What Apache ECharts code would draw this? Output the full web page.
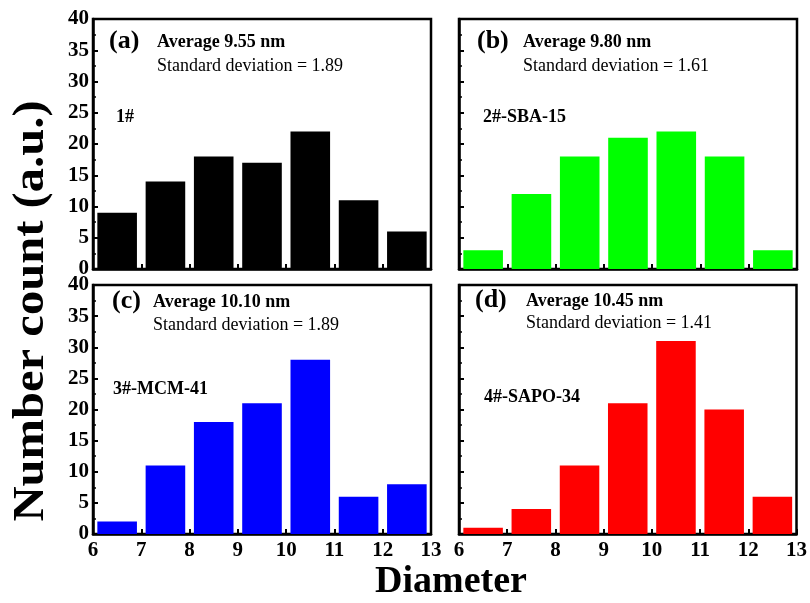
<!DOCTYPE html>
<html><head><meta charset="utf-8">
<script src="https://cdn.jsdelivr.net/npm/echarts@6/dist/echarts.min.js"></script>
<style>html,body{margin:0;padding:0;background:#fff}#c{width:810px;height:603px}</style>
</head><body><div id="c"></div>
<script>
var binStarts = [6, 7, 8, 9, 10, 11, 12];
var countsA = [9, 14, 18, 17, 22, 11, 6];
var countsB = [3, 12, 18, 21, 22, 18, 3];
var countsC = [2, 11, 18, 21, 28, 6, 8];
var countsD = [1, 4, 11, 21, 31, 20, 6];
var panelLabels = ['(a)', '(b)', '(c)', '(d)'];
var averages = ['Average 9.55 nm', 'Average 9.80 nm', 'Average 10.10 nm', 'Average 10.45 nm'];
var stdDevs = ['Standard deviation = 1.89', 'Standard deviation = 1.61', 'Standard deviation = 1.89', 'Standard deviation = 1.41'];
var sampleNames = ['1#', '2#-SBA-15', '3#-MCM-41', '4#-SAPO-34'];
var colors = ['#000000', '#00ff00', '#0000ff', '#ff0000'];
var allCounts = [countsA, countsB, countsC, countsD];

var FONT = '"Liberation Serif", "Times New Roman", serif';
var grids = [
  {left: 93, top: 19, width: 338, height: 250},
  {left: 459, top: 19, width: 338, height: 250},
  {left: 93, top: 285, width: 338, height: 249},
  {left: 459, top: 285, width: 338, height: 249}
];
var textPos = [
  {lab: [109, 43], avg: [157, 43], std: [157, 67], name: [116, 118]},
  {lab: [477, 43], avg: [523, 43], std: [523, 67], name: [483, 118]},
  {lab: [112, 303], avg: [153, 303], std: [153, 326], name: [113, 390]},
  {lab: [475, 302], avg: [526, 302], std: [526, 324], name: [484, 398]}
];

var xAxes = [], yAxes = [], series = [], graphics = [];
for (var i = 0; i < 4; i++) {
  var bottomRow = i >= 2, leftCol = (i % 2) === 0;
  grids[i].show = true;
  grids[i].borderColor = '#000';
  grids[i].borderWidth = 2.5;
  grids[i].backgroundColor = 'transparent';
  grids[i].containLabel = false;
  xAxes.push({
    type: 'value', gridIndex: i, min: 6, max: 13, interval: 1,
    axisLine: {show: true, lineStyle: {color: '#000', width: 2.5}},
    axisTick: {show: true, inside: true, length: 5, lineStyle: {color: '#000', width: 2}},
    minorTick: {show: true, splitNumber: 2, length: 3, lineStyle: {color: '#000', width: 1.5}},
    splitLine: {show: false},
    axisLabel: {show: bottomRow, color: '#000', fontFamily: FONT, fontWeight: 'bold', fontSize: 21, margin: 6}
  });
  yAxes.push({
    type: 'value', gridIndex: i, min: 0, max: 40, interval: 5,
    axisLine: {show: true, lineStyle: {color: '#000', width: 2.5}},
    axisTick: {show: true, inside: true, length: 5, lineStyle: {color: '#000', width: 2}},
    minorTick: {show: true, splitNumber: 2, length: 3, lineStyle: {color: '#000', width: 1.5}},
    splitLine: {show: false},
    axisLabel: {show: leftCol, color: '#000', fontFamily: FONT, fontWeight: 'bold', fontSize: 21, margin: 4}
  });
  var data = binStarts.map(function (b, k) { return [b, allCounts[i][k]]; });
  series.push({
    type: 'custom', xAxisIndex: i, yAxisIndex: i, data: data,
    renderItem: (function (col) {
      return function (params, api) {
        var x0 = api.value(0), v = api.value(1);
        var p1 = api.coord([x0 + 0.09, v]);
        var p2 = api.coord([x0 + 0.91, 0]);
        return {type: 'rect', shape: {x: p1[0], y: p1[1], width: p2[0] - p1[0], height: p2[1] - p1[1]},
          style: {fill: col}};
      };
    })(colors[i])
  });
  var tp = textPos[i];
  graphics.push({type: 'text', left: tp.lab[0], top: tp.lab[1] - 15,
    style: {text: panelLabels[i], font: 'bold 26px ' + FONT, fill: '#000'}});
  graphics.push({type: 'text', left: tp.avg[0], top: tp.avg[1] - 10,
    style: {text: averages[i], font: 'bold 18px ' + FONT, fill: '#000'}});
  graphics.push({type: 'text', left: tp.std[0], top: tp.std[1] - 10,
    style: {text: stdDevs[i], font: '18px ' + FONT, fill: '#000'}});
  graphics.push({type: 'text', left: tp.name[0], top: tp.name[1] - 10,
    style: {text: sampleNames[i], font: 'bold 18px ' + FONT, fill: '#000'}});
}
graphics.push({type: 'text', x: 31, y: 311, rotation: Math.PI / 2, scaleX: 1.08,
  style: {text: 'Number count (a.u.)', font: 'bold 45px ' + FONT, fill: '#000', align: 'center', verticalAlign: 'middle'}});
graphics.push({type: 'text', x: 451, y: 582,
  style: {text: 'Diameter', font: 'bold 38px ' + FONT, fill: '#000', align: 'center', verticalAlign: 'middle'}});

var chart = echarts.init(document.getElementById('c'), null, {renderer: 'canvas'});
chart.setOption({
  animation: false,
  backgroundColor: '#fff',
  grid: grids, xAxis: xAxes, yAxis: yAxes, series: series, graphic: graphics
});
</script></body></html>
